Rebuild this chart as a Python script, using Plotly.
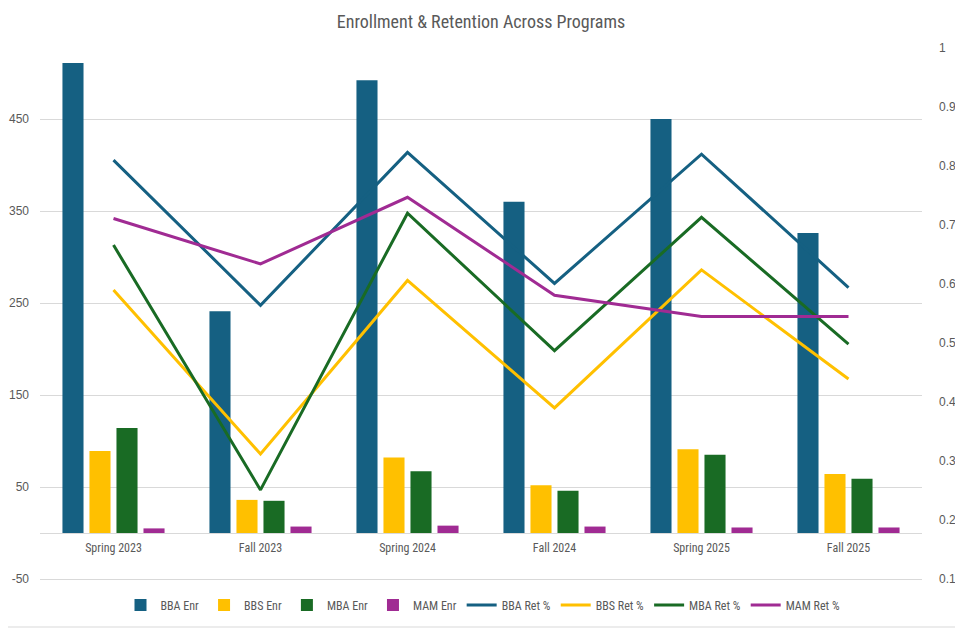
import plotly.graph_objects as go

categories = ["Spring 2023", "Fall 2023", "Spring 2024", "Fall 2024", "Spring 2025", "Fall 2025"]

bba_enr = [511, 241, 492, 360, 450, 326]
bbs_enr = [89, 36, 82, 52, 91, 64]
mba_enr = [114, 35, 67, 46, 85, 59]
mam_enr = [5, 7, 8, 7, 6, 6]

bba_ret = [0.810, 0.564, 0.823, 0.601, 0.820, 0.594]
bbs_ret = [0.590, 0.312, 0.606, 0.390, 0.624, 0.439]
mba_ret = [0.666, 0.251, 0.720, 0.487, 0.713, 0.498]
mam_ret = [0.711, 0.634, 0.747, 0.581, 0.545, 0.545]

left_ticks = [-50, 50, 150, 250, 350, 450]
right_ticks = [0.1, 0.2, 0.3, 0.4, 0.5, 0.6, 0.7, 0.8, 0.9, 1.0]

C_BBA = "#156082"
C_BBS = "#FFC000"
C_MBA = "#196B24"
C_MAM = "#A02B93"

NARROW = "Liberation Sans Narrow, Arial Narrow, Roboto Condensed, Roboto, sans-serif"
REG = "Liberation Sans, Arial, sans-serif"

fig = go.Figure()
for name, vals, col in [("BBA Enr", bba_enr, C_BBA), ("BBS Enr", bbs_enr, C_BBS),
                        ("MBA Enr", mba_enr, C_MBA), ("MAM Enr", mam_enr, C_MAM)]:
    fig.add_trace(go.Bar(x=categories, y=vals, name=name, marker=dict(color=col, line=dict(width=0))))

for name, vals, col in [("BBA Ret %", bba_ret, C_BBA), ("BBS Ret %", bbs_ret, C_BBS),
                        ("MBA Ret %", mba_ret, C_MBA), ("MAM Ret %", mam_ret, C_MAM)]:
    fig.add_trace(go.Scatter(x=categories, y=vals, name=name, mode="lines", yaxis="y2",
                             line=dict(color=col, width=3)))

OFF = 8  # page body margin
W, H = 963 - OFF, 630 - OFF
top_px, bot_px = 30, 585   # screen coords of plot area
left_px, right_px = 40, 922
# left: y = 533 - 0.92 v ; right: y = 638 - 590 r  (screen coords)
l_lo = (533 - bot_px) / 0.92
l_hi = (533 - top_px) / 0.92
r_lo = (638 - bot_px) / 590
r_hi = (638 - top_px) / 590
x_pos = (bot_px - 533) / (bot_px - top_px)
ph = bot_px - top_px
pw = right_px - left_px

fig.update_layout(
    width=W, height=H,
    margin=dict(l=left_px - OFF, r=W - (right_px - OFF), t=top_px - OFF, b=H - (bot_px - OFF),
                autoexpand=False),
    paper_bgcolor="white", plot_bgcolor="white",
    barmode="group", bargap=0.265, bargroupgap=0.22,
    title=dict(text="Enrollment & Retention Across Programs", x=(481 - OFF) / W, xanchor="center",
               y=1 - (22 - OFF) / H, yanchor="middle",
               font=dict(family=NARROW, size=18, color="#595959")),
    xaxis=dict(anchor="free", position=x_pos, showline=True, linecolor="#D9D9D9", linewidth=1,
               showgrid=False, ticks="", tickfont=dict(family=NARROW, size=12, color="#595959"),
               ticklabelstandoff=4, automargin=False),
    yaxis=dict(range=[l_lo, l_hi], tickvals=left_ticks, ticktext=[str(v) for v in left_ticks],
               showgrid=True, gridcolor="#D9D9D9",
               gridwidth=1, zeroline=False, ticks="", ticklabelstandoff=10, automargin=False,
               tickfont=dict(family=REG, size=12, color="#595959")),
    yaxis2=dict(range=[r_lo, r_hi], tickvals=right_ticks, ticktext=[f"{v:g}" for v in right_ticks],
                overlaying="y", side="right", showgrid=False, zeroline=False, ticks="",
                ticklabelstandoff=16, automargin=False,
                tickfont=dict(family=REG, size=12, color="#595959")),
    legend=dict(orientation="h", x=(483 - left_px) / pw, xanchor="center", y=(bot_px - 605) / ph,
                yanchor="middle", font=dict(family=NARROW, size=12, color="#595959"),
                traceorder="normal", itemwidth=30),
    showlegend=True,
)

fig.add_shape(type="rect", xref="paper", yref="paper",
              x0=(3 - left_px) / pw, x1=(957 - left_px) / pw,
              y0=(bot_px - 627) / ph, y1=(bot_px - 3) / ph,
              line=dict(color="#D9D9D9", width=1), fillcolor="rgba(0,0,0,0)", layer="below")

fig.write_html("out.html")
